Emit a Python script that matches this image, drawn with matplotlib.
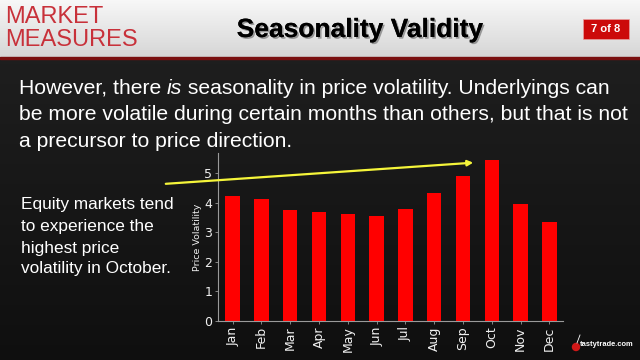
import numpy as np
import matplotlib
matplotlib.use('Agg')
import matplotlib.pyplot as plt
import matplotlib.patheffects as pe
from matplotlib.patches import Rectangle, Ellipse, FancyArrowPatch

# データ
months = ['Jan', 'Feb', 'Mar', 'Apr', 'May', 'Jun',
          'Jul', 'Aug', 'Sep', 'Oct', 'Nov', 'Dec']
volatility = [4.21, 4.13, 3.76, 3.68, 3.60, 3.53,
              3.79, 4.34, 4.89, 5.45, 3.96, 3.35]
y_ticks = [0, 1, 2, 3, 4, 5]

title = 'Seasonality Validity'
page_label = '7 of 8'
body_lines = ['However, there is seasonality in price volatility. Underlyings can',
              'be more volatile during certain months than others, but that is not',
              'a precursor to price direction.']
side_lines = ['Equity markets tend', 'to experience the',
              'highest price', 'volatility in October.']

fig = plt.figure(figsize=(6.4, 3.6), dpi=100)
fig.patch.set_facecolor('#1b1b1b')

# 背景（グラデーション）
bg = fig.add_axes([0, 0, 1, 1], zorder=0)
g = np.linspace(0.06, 0.13, 256).reshape(-1, 1, 1) * np.ones((1, 1, 3))
bg.imshow(g, extent=[0, 1, 0, 1], aspect='auto', origin='lower')
# ヘッダー
h = np.linspace(0.84, 0.97, 64).reshape(-1, 1, 1) * np.ones((1, 1, 3))
bg.imshow(h, extent=[0, 1, 1 - 57 / 360, 1], aspect='auto', origin='lower')
bg.add_patch(Rectangle((0, 1 - 59 / 360), 1, 2 / 360, color='#7a1010'))
bg.add_patch(Rectangle((583 / 640, 1 - 39 / 360), 46 / 640, 20 / 360,
                       facecolor='#cc0a0a', edgecolor='#e8a0a0', lw=0.5))
bg.set_xlim(0, 1)
bg.set_ylim(0, 1)
bg.axis('off')

font = 'Liberation Sans'
fig.text(5 / 640, 1 - 17 / 360, 'MARKET', color='#c8313a', fontsize=17,
         family=font, va='center', ha='left')
fig.text(5 / 640, 1 - 40 / 360, 'MEASURES', color='#c8313a', fontsize=17,
         family=font, va='center', ha='left')
fig.text(360 / 640, 1 - 30 / 360, title, color='black', fontsize=19,
         family=font, weight='bold', ha='center', va='center',
         path_effects=[pe.withSimplePatchShadow(offset=(1.2, -1.2),
                                                shadow_rgbFace='#777777', alpha=0.7),
                       pe.Normal()])
fig.text(606 / 640, 1 - 29 / 360, page_label, color='white', fontsize=8,
         family=font, weight='bold', ha='center', va='center')

# 本文
fs = 15.2
body_y = [88, 115, 142]
t0 = fig.text(19 / 640, 1 - body_y[0] / 360, 'However, there ', color='white',
              fontsize=fs, family=font, va='center', ha='left')
fig.canvas.draw()
r = fig.canvas.get_renderer()
x = 19 + t0.get_window_extent(r).width
t1 = fig.text(x / 640, 1 - body_y[0] / 360, 'is', color='white', fontsize=fs,
              family=font, style='italic', va='center', ha='left')
x += t1.get_window_extent(r).width
fig.text(x / 640, 1 - body_y[0] / 360,
         ' seasonality in price volatility. Underlyings can', color='white',
         fontsize=fs, family=font, va='center', ha='left')
for line, yy in zip(body_lines[1:], body_y[1:]):
    fig.text(19 / 640, 1 - yy / 360, line, color='white', fontsize=fs,
             family=font, va='center', ha='left')

side_y = [205, 226, 248, 269]
for line, yy in zip(side_lines, side_y):
    fig.text(21 / 640, 1 - yy / 360, line, color='white', fontsize=12.4,
             family=font, va='center', ha='left')

# 棒グラフ
ax = fig.add_axes([218 / 640, 1 - 320.7 / 360, 345 / 640, 167.7 / 360], zorder=2)
ax.set_facecolor('none')
x_pos = np.arange(len(months))
ax.bar(x_pos, volatility, width=0.5, color='#ff0000')
ax.set_xlim(-0.51, 11.47)
ax.set_ylim(0, 5.68)
ax.set_xticks(x_pos)
ax.set_xticklabels(months, rotation=90, fontsize=9)
ax.set_yticks(y_ticks)
ax.set_yticklabels([str(v) for v in y_ticks], fontsize=9)
ax.set_ylabel('Price Volatility', fontsize=6.8, color='#f0f0f0', labelpad=2)
for s in ['top', 'right']:
    ax.spines[s].set_visible(False)
for s in ['left', 'bottom']:
    ax.spines[s].set_color('#9a9a9a')
    ax.spines[s].set_linewidth(0.8)
ax.tick_params(colors='#9a9a9a', length=2, width=0.6, pad=2, labelcolor='#f0f0f0')

# 矢印
fig.add_artist(FancyArrowPatch(
    (163 / 640, 1 - 184 / 360), (476 / 640, 1 - 162.5 / 360),
    transform=fig.transFigure, arrowstyle='-|>', mutation_scale=8,
    color='#f5f53a', lw=1.6, zorder=5))

# ロゴ
fig.add_artist(Ellipse((576 / 640, 1 - 347 / 360), 7 / 640, 7 / 360,
                       color='#d01818', transform=fig.transFigure))
fig.add_artist(plt.Line2D([577 / 640, 580 / 640], [1 - 343 / 360, 1 - 335 / 360],
                          color='white', lw=0.6, transform=fig.transFigure))
fig.text(580 / 640, 1 - 344 / 360, 'tastytrade.com', color='white', fontsize=5.4,
         family=font, weight='bold', ha='left', va='center')

fig.savefig('out.png', dpi=100, facecolor=fig.get_facecolor())
